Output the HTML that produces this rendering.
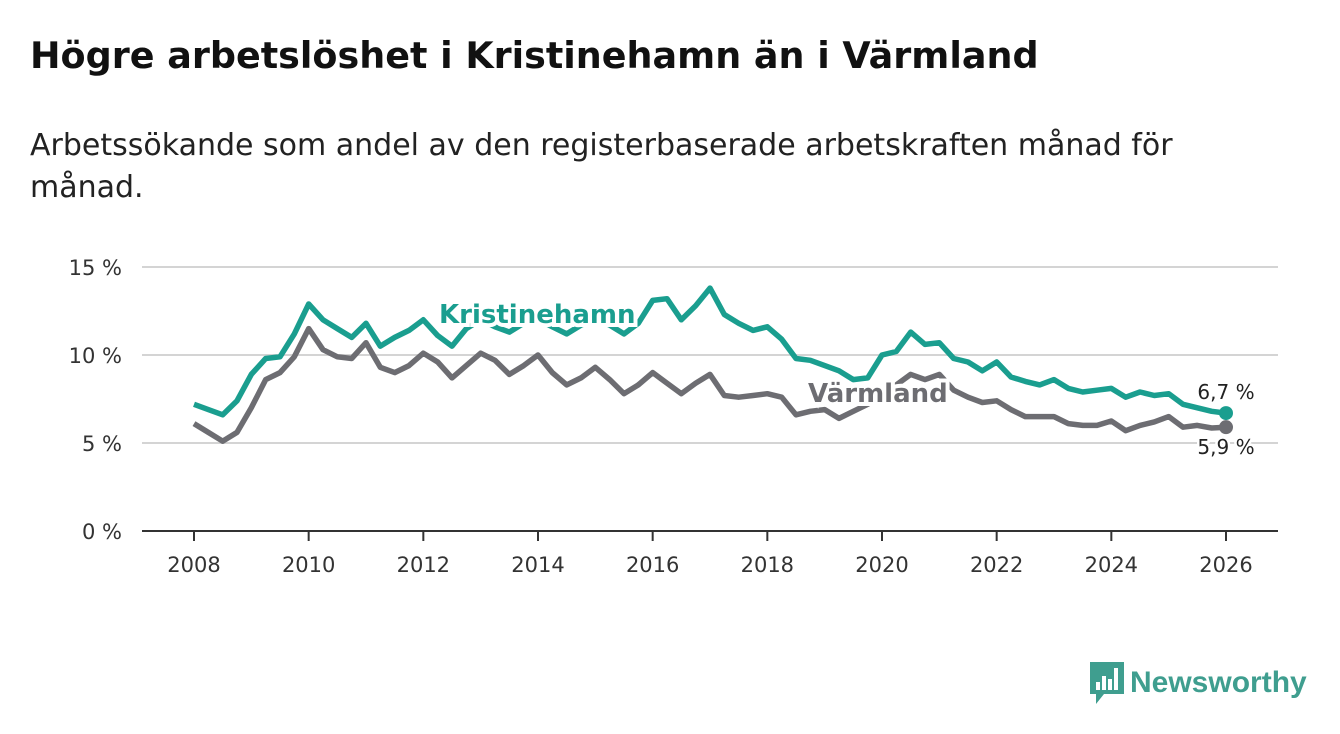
<!DOCTYPE html>
<html><head><meta charset="utf-8"><style>
body{margin:0;background:#fff;font-family:"DejaVu Sans",sans-serif;}
#wrap{position:relative;width:1340px;height:734px;overflow:hidden}
h1{position:absolute;left:30px;top:34px;margin:0;font-size:36.5px;font-weight:bold;color:#111;white-space:nowrap}
#sub{position:absolute;left:30px;top:125px;width:1200px;font-size:30px;line-height:42px;color:#222;}
svg text{font-family:"DejaVu Sans",sans-serif}
</style></head><body>
<div id="wrap">
<h1>Högre arbetslöshet i Kristinehamn än i Värmland</h1>
<div id="sub">Arbetssökande som andel av den registerbaserade arbetskraften månad för månad.</div>
<svg id="chart" width="1340" height="734" style="position:absolute;left:0;top:0"></svg>
<div style="position:absolute;left:1090px;top:662px;display:flex;align-items:center">
<svg width="34" height="42"><path d="M0 0H34V32H14L6 42V32H0Z" fill="#3f9e8f"/><rect x="6" y="20" width="4" height="8" fill="#fff"/><rect x="12" y="14" width="4" height="14" fill="#fff"/><rect x="18" y="17" width="4" height="11" fill="#fff"/><rect x="24" y="6" width="4" height="22" fill="#fff"/></svg>
<span style="font-family:'Liberation Sans',sans-serif;font-size:30px;color:#3f9e8f;margin-left:6px;font-weight:bold">Newsworthy</span></div>
</div>
<script>
const startYear = 2008;
const kristinehamn = [7.2,6.9,6.6,7.4,8.9,9.8,9.9,11.2,12.9,12.0,11.5,11.0,11.8,10.5,11.0,11.4,12.0,11.1,10.5,11.5,12.0,11.6,11.3,11.8,12.0,11.6,11.2,11.7,12.0,11.7,11.2,11.8,13.1,13.2,12.0,12.8,13.8,12.3,11.8,11.4,11.6,10.9,9.8,9.7,9.4,9.1,8.6,8.7,10.0,10.2,11.3,10.6,10.7,9.8,9.6,9.1,9.6,8.75,8.5,8.3,8.6,8.1,7.9,8.0,8.1,7.6,7.9,7.7,7.8,7.2,7.0,6.8,6.7];
const varmland = [6.1,5.6,5.1,5.6,7.0,8.6,9.0,9.9,11.5,10.3,9.9,9.8,10.7,9.3,9.0,9.4,10.1,9.6,8.7,9.4,10.1,9.7,8.9,9.4,10.0,9.0,8.3,8.7,9.3,8.6,7.8,8.3,9.0,8.4,7.8,8.4,8.9,7.7,7.6,7.7,7.8,7.6,6.6,6.8,6.9,6.4,6.8,7.2,7.7,8.3,8.9,8.6,8.9,8.0,7.6,7.3,7.4,6.9,6.5,6.5,6.5,6.1,6.0,6.0,6.25,5.7,6.0,6.2,6.5,5.9,6.0,5.85,5.9];
const yTicks = [0,5,10,15];
const xTicks = [2008,2010,2012,2014,2016,2018,2020,2022,2024,2026];
const NS="http://www.w3.org/2000/svg";
const svg=document.getElementById('chart');
const X=yr=>194+(yr-2008)*(1226-194)/18;
const Y=v=>531-v*(531-267)/15;
function el(t,a){const e=document.createElementNS(NS,t);for(const k in a)e.setAttribute(k,a[k]);svg.appendChild(e);return e;}
yTicks.forEach(v=>{
  const g=el('line',{x1:142,x2:1278,y1:Y(v),y2:Y(v),stroke:v===0?'#333':'#d4d4d4','stroke-width':2});
  
  
  const t=el('text',{x:122,y:Y(v)+8,'text-anchor':'end','font-size':21,fill:'#333'});
  t.textContent=v+' %';
  
  
});
xTicks.forEach(yr=>{
  const l=el('line',{x1:X(yr),x2:X(yr),y1:531,y2:541,stroke:'#333','stroke-width':2});
  
  
  const t=el('text',{x:X(yr),y:572,'text-anchor':'middle','font-size':21,fill:'#333'});
  t.textContent=yr;
  
  
});
function pts(arr){return arr.map((v,i)=>X(startYear+i*0.25).toFixed(1)+','+Y(v).toFixed(1)).join(' ');}
const lv=el('polyline',{points:pts(varmland),fill:'none',stroke:'#6d6d72','stroke-width':5.5,'stroke-linejoin':'round'});


const lk=el('polyline',{points:pts(kristinehamn),fill:'none',stroke:'#1a9e8f','stroke-width':5.5,'stroke-linejoin':'round'});


const lastI=kristinehamn.length-1, lastX=X(startYear+lastI*0.25);
const dv=el('circle',{cx:lastX,cy:Y(varmland[lastI]),r:7,fill:'#6d6d72'});


const dk=el('circle',{cx:lastX,cy:Y(kristinehamn[lastI]),r:7,fill:'#1a9e8f'});


const fmt=v=>v.toFixed(1).replace('.',',')+' %';
const tk=el('text',{x:lastX,y:Y(kristinehamn[lastI])-14,'text-anchor':'middle','font-size':20,fill:'#222',stroke:'#fff','stroke-width':5,'paint-order':'stroke'});
tk.textContent=fmt(kristinehamn[lastI]);


const tv=el('text',{x:lastX,y:Y(varmland[lastI])+27,'text-anchor':'middle','font-size':20,fill:'#222',stroke:'#fff','stroke-width':5,'paint-order':'stroke'});
tv.textContent=fmt(varmland[lastI]);


const sk=el('text',{x:439,y:323,'font-size':26,'font-weight':'bold',fill:'#1a9e8f',stroke:'#fff','stroke-width':8,'paint-order':'stroke'});
sk.textContent='Kristinehamn';


const sv=el('text',{x:808,y:402,'font-size':26,'font-weight':'bold',fill:'#6d6d72',stroke:'#fff','stroke-width':8,'paint-order':'stroke'});
sv.textContent='Värmland';


</script>
</body></html>
